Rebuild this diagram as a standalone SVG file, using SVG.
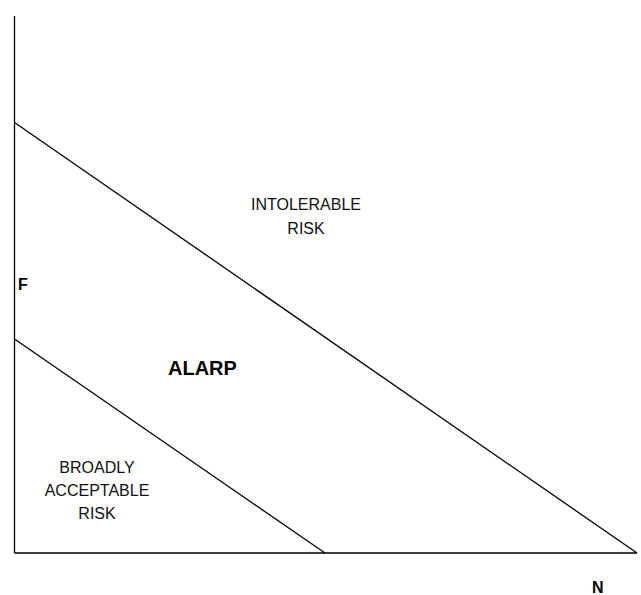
<svg xmlns="http://www.w3.org/2000/svg" width="641" height="595" viewBox="0 0 641 595">
<style>
.ln{stroke:#000;stroke-width:1.3;fill:none}
.t{font-family:"Liberation Sans",Arial,sans-serif;font-size:16px;fill:#111;text-anchor:middle}
.b{font-family:"Liberation Sans",Arial,sans-serif;font-weight:bold;fill:#000}
</style>
<rect width="641" height="595" fill="#fff"/>
<g id="connectors">
<line class="ln" x1="14.5" y1="16" x2="14.5" y2="553"/>
<line class="ln" x1="14.5" y1="553" x2="637" y2="553"/>
<line class="ln" x1="14.5" y1="122.5" x2="637" y2="553"/>
<line class="ln" x1="14.5" y1="339" x2="325" y2="553"/>
</g>
<g id="intolerable"><text class="t" x="306" y="210">INTOLERABLE</text><text class="t" x="306" y="234">RISK</text></g>
<g id="alarp"><text class="b" x="168" y="375" style="font-size:20px">ALARP</text></g>
<g id="broadly"><text class="t" x="97" y="473">BROADLY</text><text class="t" x="97" y="496">ACCEPTABLE</text><text class="t" x="97" y="519">RISK</text></g>
<g id="f"><text class="b" x="18" y="290" style="font-size:16px">F</text></g>
<g id="n"><text class="b" x="592" y="593" style="font-size:16px">N</text></g>
</svg>
